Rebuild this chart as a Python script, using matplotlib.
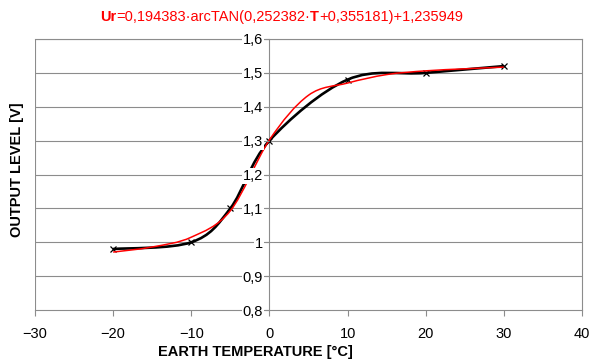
import matplotlib.pyplot as plt
import numpy as np
from matplotlib.path import Path
from matplotlib.patches import PathPatch
from matplotlib.ticker import FuncFormatter

plt.rcParams['font.family'] = ['Liberation Sans', 'DejaVu Sans']

# measured points (black, smoothed line with x markers)
temp = [-20, -10, -5, 0, 10, 20, 30]
level = [0.98, 1.00, 1.10, 1.30, 1.48, 1.50, 1.52]

# fitted curve (red), read every 5 degrees
fit_temp = [-20, -15, -10, -5, 0, 5, 10, 15, 20, 25, 30]
fit_level = [0.971, 0.986, 1.015, 1.093, 1.302, 1.434, 1.470, 1.495, 1.506, 1.512, 1.517]

title_parts = ['Ur', '=0,194383·arcTAN(0,252382·', 'T', '+0,355181)+1,235949']

grid_col = '#8c8c8c'


def smooth_path(xs, ys):
    # Catmull-Rom style bezier through the points, like a spreadsheet "smoothed line"
    pts = np.column_stack([xs, ys])
    verts = [pts[0]]
    codes = [Path.MOVETO]
    n = len(pts)
    for i in range(n - 1):
        p0 = pts[max(i - 1, 0)]
        p1 = pts[i]
        p2 = pts[i + 1]
        p3 = pts[min(i + 2, n - 1)]
        c1 = p1 + (p2 - p0) / 6
        c2 = p2 - (p3 - p1) / 6
        verts += [c1, c2, p2]
        codes += [Path.CURVE4] * 3
    return Path(verts, codes)


fig = plt.figure(figsize=(5.9, 3.62), dpi=100)
ax = fig.add_axes([35 / 590, 1 - 310 / 362, 547 / 590, 271 / 362])

ax.set_xlim(-30, 40)
ax.set_ylim(0.8, 1.6)

for y in np.arange(0.9, 1.61, 0.1):
    ax.axhline(y, color=grid_col, lw=0.8, zorder=1)
ax.axvline(-30, color=grid_col, lw=0.8, zorder=1)

ax.add_patch(PathPatch(smooth_path(temp, level), facecolor='none',
                       edgecolor='black', lw=1.9, zorder=3))
ax.plot(temp, level, ls='none', marker='x', color='black', ms=5, mew=0.9, zorder=4)
ax.add_patch(PathPatch(smooth_path(fit_temp, fit_level), facecolor='none',
                       edgecolor='red', lw=1.1, zorder=4))

ax.spines['left'].set_position(('data', 0))
for s in ['left', 'right', 'top', 'bottom']:
    ax.spines[s].set_color(grid_col)
    ax.spines[s].set_linewidth(0.8)

ax.set_xticks(range(-30, 41, 10))
ax.set_yticks(np.arange(0.8, 1.61, 0.1))
ax.yaxis.set_major_formatter(FuncFormatter(lambda v, p: f'{v:.1f}'.replace('.', ',').replace(',0', '')))
ax.tick_params(axis='x', direction='out', length=4, width=0.8, color=grid_col, pad=8, labelsize=10.5)
ax.tick_params(axis='y', direction='out', length=3, width=0.8, color=grid_col, pad=1.5, labelsize=10.5)
for lbl in ax.get_yticklabels():
    lbl.set_bbox(dict(facecolor='white', edgecolor='none', pad=0.5))
    lbl.set_zorder(5)
ax.yaxis.set_zorder(5)

fig.text(255 / 590, 1 - 352 / 362, 'EARTH TEMPERATURE [°C]', ha='center', va='center',
         fontsize=10.5, fontweight='bold')
fig.text(17 / 590, 1 - 170 / 362, 'OUTPUT LEVEL [V]', ha='center', va='center',
         fontsize=10.5, fontweight='bold', rotation=90)

# title in red with bold Ur and T
x0 = 100 / 590
ty = 1 - 17 / 362
renderer = fig.canvas.get_renderer()
for i, part in enumerate(title_parts):
    t = fig.text(x0, ty, part, color='red', fontsize=10.5, va='center', ha='left',
                 fontweight='bold' if i % 2 == 0 else 'normal')
    bb = t.get_window_extent(renderer=renderer)
    x0 += bb.width / fig.bbox.width

fig.savefig('out.png', dpi=100)
